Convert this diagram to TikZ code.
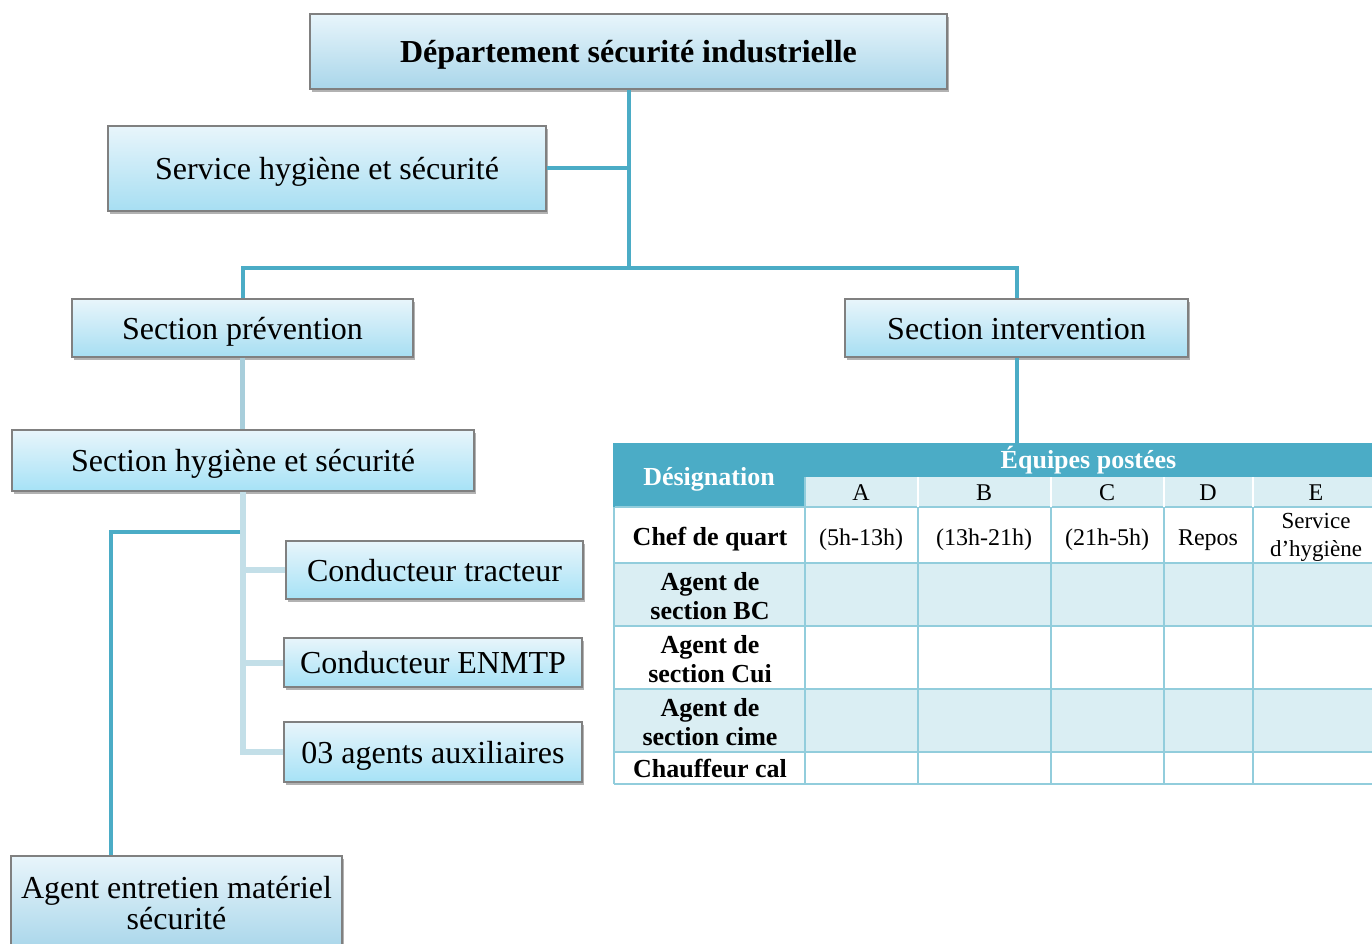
\documentclass[tikz,border=0pt]{standalone}
\usepackage{fontspec}
\setmainfont{Liberation Serif}
\usetikzlibrary{shadows}
\definecolor{lineDark}{HTML}{4BACC6}
\definecolor{lineMid}{HTML}{A8CEDB}
\definecolor{lineLight}{HTML}{C3DFE8}
\definecolor{boxTop}{HTML}{E8F5FB}
\definecolor{boxBotBlue}{HTML}{A9D6EA}
\definecolor{boxBotCyan}{HTML}{A6E2F6}
\definecolor{boxEdge}{HTML}{808080}
\definecolor{tabDark}{HTML}{4BACC6}
\definecolor{tabLight}{HTML}{DAEEF3}
\definecolor{tabLine}{HTML}{92CDDC}
\tikzset{
  orgbox/.style={draw=boxEdge, line width=1.3pt, inner sep=0pt, align=center,
    top color=boxTop, bottom color=boxBotBlue,
    drop shadow={shadow xshift=2pt, shadow yshift=-3pt, fill=black, opacity=0.3},
    font=\fontsize{32}{31}\selectfont},
  bigline/.style={text height=22pt, text depth=0pt},
  tabline/.style={text height=17pt, text depth=0pt},
  cyanbox/.style={orgbox, bottom color=boxBotCyan},
  conn/.style={draw=lineDark, line width=4pt},
  connmid/.style={draw=lineMid, line width=5pt},
  connlight/.style={draw=lineLight, line width=6pt},
  tabtxt/.style={inner sep=0pt, align=center, font=\fontsize{24}{28}\selectfont},
  tabbold/.style={inner sep=0pt, align=center, font=\fontsize{26}{29}\selectfont\bfseries},
  tabhead/.style={tabbold, text=white},
  gridline/.style={draw=tabLine, line width=2pt},
}
\begin{document}
\begin{tikzpicture}[x=1pt,y=-1pt]
\clip (0,0) rectangle (1372,944);
\fill[white] (0,0) rectangle (1372,944);

% ---------- table ----------
\fill[tabDark] (614,443) rectangle (1390,477);
\fill[tabDark] (614,477) rectangle (805,507);
\fill[tabLight] (805,477) rectangle (1390,507);
\fill[tabLight] (614,563) rectangle (1390,626);
\fill[tabLight] (614,689) rectangle (1390,752);
\foreach \yy in {507,563,626,689,752,784}
  \draw[gridline] (614,\yy) -- (1390,\yy);
\foreach \xx in {805,918,1051,1164,1253}
  \draw[gridline] (\xx,507) -- (\xx,784);
\foreach \xx in {918,1051,1164,1253}
  \draw[white, line width=2pt] (\xx,477) -- (\xx,507);
\draw[gridline] (805,477) -- (805,507);
\draw[gridline] (614,507) -- (614,784);
\draw[tabDark, line width=2pt] (614,443) -- (614,507);

\node[tabhead, tabline] (desig) at (709,477) {Désignation};
\node[tabhead, tabline, minimum width=567pt, minimum height=34pt] (equipes) at (1088.5,460) {Équipes postées};
\node[tabtxt, tabline] (hA) at (861,492) {A};
\node[tabtxt, tabline] (hB) at (984,492) {B};
\node[tabtxt, tabline] (hC) at (1107,492) {C};
\node[tabtxt, tabline] (hD) at (1208,492) {D};
\node[tabtxt, tabline] (hE) at (1316,492) {E};

\node[tabbold, tabline] (r1) at (710,537) {Chef de quart};
\node[tabtxt, tabline] (r1a) at (861,537) {(5h-13h)};
\node[tabtxt, tabline] (r1b) at (984,537) {(13h-21h)};
\node[tabtxt, tabline] (r1c) at (1107,537) {(21h-5h)};
\node[tabtxt, tabline] (r1d) at (1208,537) {Repos};
\node[tabtxt, font=\fontsize{23}{28}\selectfont] (r1e) at (1316,537.5) {Service\\d’hygiène};
\node[tabbold] (r2) at (710,596) {Agent de\\section BC};
\node[tabbold] (r3) at (710,659) {Agent de\\section Cui};
\node[tabbold] (r4) at (710,722) {Agent de\\section cime};
\node[tabbold, tabline] (r5) at (710,768.5) {Chauffeur cal};

% ---------- boxes ----------
\node[orgbox, bigline, minimum width=637pt, minimum height=75pt, font=\fontsize{32}{31}\selectfont\bfseries] (title) at (628.5,51.5) {Département sécurité industrielle};
\node[orgbox, bigline, bottom color=boxBotCyan!70!boxBotBlue, minimum width=438pt, minimum height=85pt] (serv) at (327,168.5) {Service hygiène et sécurité};
\node[orgbox, bigline, bottom color=boxBotCyan!70!boxBotBlue, minimum width=341pt, minimum height=58pt] (secprev) at (242.5,328) {Section prévention};
\node[orgbox, bigline, bottom color=boxBotCyan!70!boxBotBlue, minimum width=343pt, minimum height=58pt] (secint) at (1016.5,328) {Section intervention};
\node[cyanbox, bigline, minimum width=462pt, minimum height=61pt] (sechyg) at (243,460.5) {Section hygiène et sécurité};
\node[cyanbox, bigline, minimum width=297pt, minimum height=58pt] (ct) at (434.5,570) {Conducteur tracteur};
\node[cyanbox, bigline, minimum width=298pt, minimum height=49pt] (enmtp) at (433,662.5) {Conducteur ENMTP};
\node[cyanbox, bigline, minimum width=298pt, minimum height=60pt] (aux) at (433,752) {03 agents auxiliaires};
\node[orgbox, minimum width=331pt, minimum height=94pt] (agent) at (176.5,903) {Agent entretien matériel\\sécurité};

% ---------- connectors ----------
\coordinate (jt) at (628.5,268);
\draw[conn] (title.south) -- (jt);
\draw[conn] (serv.east) -- (serv.east -| title.south);
\draw[conn] (secprev.north) -- (secprev.north |- jt) -- (secint.north |- jt) -- (secint.north);
\draw[conn] (secint.south) -- (secint.south |- equipes.north);
\draw[connmid] (secprev.south) -- (sechyg.north -| secprev.south);
\draw[connlight] (sechyg.south) -- (sechyg.south |- aux.west) -- (aux.west);
\draw[connlight] (sechyg.south |- ct.west) -- (ct.west);
\draw[connlight] (sechyg.south |- enmtp.west) -- (enmtp.west);
\coordinate (ja) at (240,532);
\coordinate (jb) at (111,532);
\draw[conn] (ja) -- (jb) -- (jb |- agent.north);
\end{tikzpicture}
\end{document}
